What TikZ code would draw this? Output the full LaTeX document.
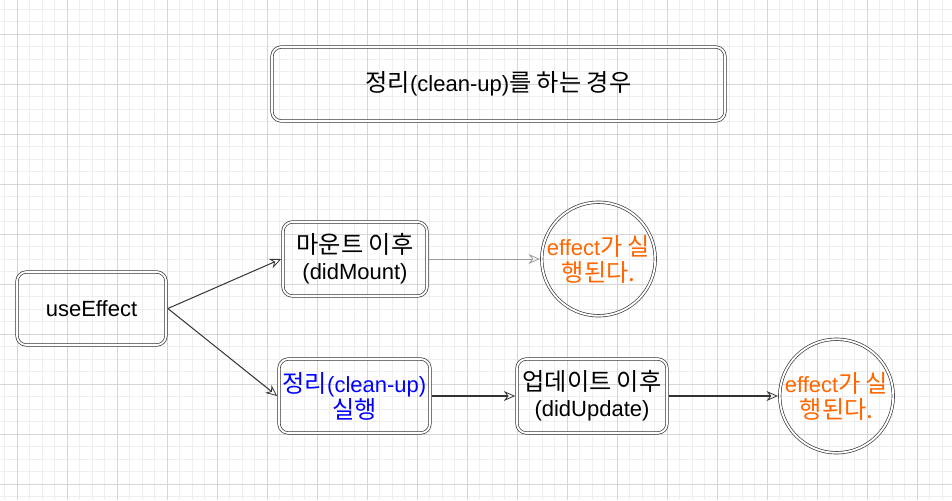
\documentclass[tikz,border=0pt]{standalone}
\usepackage{fontspec}
\setmainfont{Liberation Sans}
\newfontfamily\hangul[Scale=1.1]{Noto Sans CJK KR}
\usetikzlibrary{arrows.meta}
\definecolor{linegray}{HTML}{333333}
\definecolor{softline}{HTML}{9A9A9A}
\definecolor{gridmajor}{HTML}{D6D6D6}
\definecolor{gridminor}{HTML}{EEEEEE}
\definecolor{cleanblue}{HTML}{0000FF}
\definecolor{effectorange}{HTML}{FF6600}
\newcommand{\ko}[1]{{\hangul #1}}

\begin{document}
\begin{tikzpicture}[
  x=0.75pt, y=-0.75pt,
  font=\fontsize{16.5}{19.5}\selectfont,
  box/.style={
    draw=linegray,
    double,
    double distance=1.4pt,
    line width=0.5pt,
    rounded corners=7pt,
    align=center,
    inner sep=0pt,
    outer sep=1.4pt,
    minimum height=55.5pt
  },
  effect/.style={box,circle,minimum size=84pt,text=effectorange},
  link/.style={-{Stealth[open,length=8.5pt,width=7.5pt,line width=0.6pt]},draw=linegray,line width=0.75pt},
  faint/.style={link,draw=softline},
  strong/.style={link,line width=1.5pt},
  gridminorline/.style={draw=gridminor,line width=0.5pt},
  gridmajorline/.style={draw=gridmajor,line width=0.75pt}
]
  \useasboundingbox[fill=white] (0,0) rectangle (952,500);
  \foreach \k in {0,...,76}
    \draw[gridminorline] ({4.5+12.5*\k},0) -- ({4.5+12.5*\k},500);
  \foreach \k in {0,...,39}
    \draw[gridminorline] (0,{9+12.5*\k}) -- (952,{9+12.5*\k});
  \foreach \k in {0,...,18}
    \draw[gridmajorline] ({17+50*\k},0) -- ({17+50*\k},500);
  \foreach \k in {0,...,9}
    \draw[gridmajorline] (0,{34+50*\k}) -- (952,{34+50*\k});

  \node[box,minimum width=339.75pt] (title) at (498.5,84) {\ko{정리}(clean-up)\ko{를 하는 경우}};
  \node[box,minimum width=111.75pt,minimum height=54.75pt] (useeffect) at (91.5,308.5) {useEffect};
  \node[box,minimum width=108pt] (didmount) at (355,259) {\ko{마운트 이후}\\(didMount)};
  \node[box,minimum width=113.25pt,text=cleanblue] (cleanup) at (354.5,396) {\ko{정리}(clean-up)\\\ko{실행}};
  \node[box,minimum width=112.5pt] (didupdate) at (592,396) {\ko{업데이트 이후}\\(didUpdate)};
  \node[effect] (effectone) at (598.5,259) {effect\ko{가 실}\\\ko{행된다.}};
  \node[effect] (effecttwo) at (836.5,396) {effect\ko{가 실}\\\ko{행된다.}};

  \draw[link] (useeffect.east) -- (didmount.west);
  \draw[link] (useeffect.east) -- (cleanup.west);
  \draw[faint] (didmount.east) -- (effectone.west);
  \draw[strong] (cleanup.east) -- (didupdate.west);
  \draw[strong] (didupdate.east) -- (effecttwo.west);
\end{tikzpicture}
\end{document}
